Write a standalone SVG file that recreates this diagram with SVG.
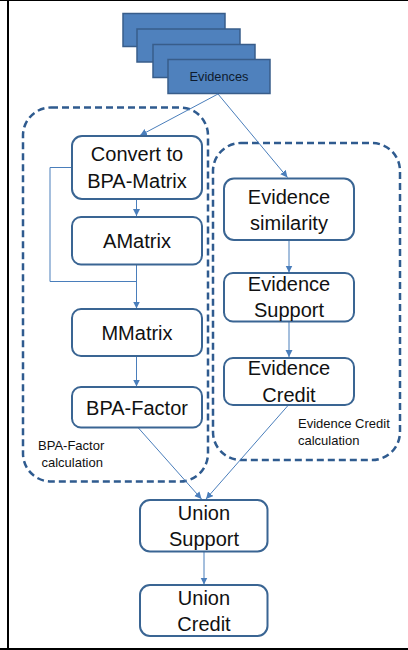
<svg xmlns="http://www.w3.org/2000/svg" width="408" height="650" viewBox="0 0 408 650">
  <defs>
    <marker id="arrow" markerUnits="userSpaceOnUse" markerWidth="8" markerHeight="8" refX="7" refY="4" orient="auto">
      <path d="M0,0.5 L7,4 L0,7.5 Z" fill="#4A7EBB"/>
    </marker>
    <style>
      .frame { stroke: #000; fill: none; }
      .group { fill: none; stroke: #2F5B8F; stroke-width: 2.5; stroke-dasharray: 7 4; }
      .box { fill: #fff; stroke: #3A6593; stroke-width: 2; }
      .stack { fill: #4F81BD; stroke: #385D8A; stroke-width: 1.5; }
      .conn { fill: none; stroke: #4A7EBB; stroke-width: 1; }
      .lbl { font-family: "Liberation Sans", Arial, sans-serif; font-size: 20px; fill: #111; text-anchor: middle; }
      .small { font-family: "Liberation Sans", Arial, sans-serif; font-size: 13px; fill: #111; }
    </style>
  </defs>

  <rect width="408" height="650" fill="#fff"/>
  <!-- outer frame: top, left and bottom edges -->
  <line class="frame" x1="0" y1="0.5" x2="408" y2="0.5" stroke-width="1"/>
  <line class="frame" x1="8" y1="0" x2="8" y2="650" stroke-width="2"/>
  <line class="frame" x1="0" y1="649" x2="408" y2="649" stroke-width="2"/>

  <!-- dashed calculation groups -->
  <g id="bpa-factor-calculation">
    <rect class="group" x="23" y="107.5" width="185" height="374" rx="28"/>
    <text class="small" x="38" y="450">BPA-Factor</text>
    <text class="small" x="41.5" y="467">calculation</text>
  </g>
  <g id="evidence-credit-calculation">
    <rect class="group" x="213" y="143" width="187" height="317" rx="28"/>
    <text class="small" x="298" y="428">Evidence Credit</text>
    <text class="small" x="298" y="445">calculation</text>
  </g>

  <!-- evidences stack -->
  <g id="evidences">
    <rect class="stack" x="123" y="13.5" width="102" height="33"/>
    <rect class="stack" x="137" y="29" width="103" height="33"/>
    <rect class="stack" x="153" y="44.5" width="102" height="33"/>
    <rect class="stack" x="168" y="59.5" width="102" height="34"/>
    <text x="219" y="81" font-family="Liberation Sans, Arial, sans-serif" font-size="12.8" fill="#0E1B2E" text-anchor="middle">Evidences</text>
  </g>

  <!-- connectors -->
  <g id="connectors">
    <line class="conn" x1="218" y1="94" x2="140" y2="135.5" marker-end="url(#arrow)"/>
    <line class="conn" x1="218" y1="94" x2="287.5" y2="177.5" marker-end="url(#arrow)"/>
    <line class="conn" x1="136.5" y1="199" x2="136.5" y2="216" marker-end="url(#arrow)"/>
    <polyline class="conn" points="72,167.5 50,167.5 50,281.5 136.5,281.5"/>
    <line class="conn" x1="136.5" y1="264.5" x2="136.5" y2="308.5" marker-end="url(#arrow)"/>
    <line class="conn" x1="136.5" y1="356" x2="136.5" y2="386.5" marker-end="url(#arrow)"/>
    <line class="conn" x1="289" y1="240" x2="289" y2="272.5" marker-end="url(#arrow)"/>
    <line class="conn" x1="289" y1="322" x2="289" y2="357" marker-end="url(#arrow)"/>
    <line class="conn" x1="138" y1="427.5" x2="201.5" y2="499" marker-end="url(#arrow)"/>
    <line class="conn" x1="288" y1="405.5" x2="206" y2="499" marker-end="url(#arrow)"/>
    <line class="conn" x1="204" y1="552" x2="204" y2="584.5" marker-end="url(#arrow)"/>
  </g>

  <!-- BPA-Factor chain -->
  <g id="convert-to-bpa-matrix">
    <rect class="box" x="72" y="136" width="130" height="63" rx="10"/>
    <text class="lbl" x="137" y="161">Convert to</text>
    <text class="lbl" x="137" y="188">BPA-Matrix</text>
  </g>
  <g id="amatrix">
    <rect class="box" x="72" y="217" width="130" height="47.5" rx="9"/>
    <text class="lbl" x="137" y="247.5">AMatrix</text>
  </g>
  <g id="mmatrix">
    <rect class="box" x="72" y="309" width="130" height="47" rx="9"/>
    <text class="lbl" x="137" y="339.5">MMatrix</text>
  </g>
  <g id="bpa-factor">
    <rect class="box" x="72" y="387" width="130" height="40.5" rx="9"/>
    <text class="lbl" x="137" y="415">BPA-Factor</text>
  </g>

  <!-- Evidence Credit chain -->
  <g id="evidence-similarity">
    <rect class="box" x="224" y="178.5" width="130" height="61.5" rx="10"/>
    <text class="lbl" x="289" y="203.5">Evidence</text>
    <text class="lbl" x="289" y="230">similarity</text>
  </g>
  <g id="evidence-support">
    <rect class="box" x="224" y="273" width="130" height="48.5" rx="9"/>
    <text class="lbl" x="289" y="291">Evidence</text>
    <text class="lbl" x="289" y="317">Support</text>
  </g>
  <g id="evidence-credit">
    <rect class="box" x="224" y="358" width="130" height="47" rx="9"/>
    <text class="lbl" x="289" y="375">Evidence</text>
    <text class="lbl" x="289" y="401.5">Credit</text>
  </g>

  <!-- union nodes -->
  <g id="union-support">
    <rect class="box" x="140" y="500" width="127.5" height="51.5" rx="10"/>
    <text class="lbl" x="204" y="520">Union</text>
    <text class="lbl" x="204" y="546">Support</text>
  </g>
  <g id="union-credit">
    <rect class="box" x="140" y="585" width="127.5" height="51" rx="10"/>
    <text class="lbl" x="204" y="604.5">Union</text>
    <text class="lbl" x="204" y="631">Credit</text>
  </g>
</svg>
